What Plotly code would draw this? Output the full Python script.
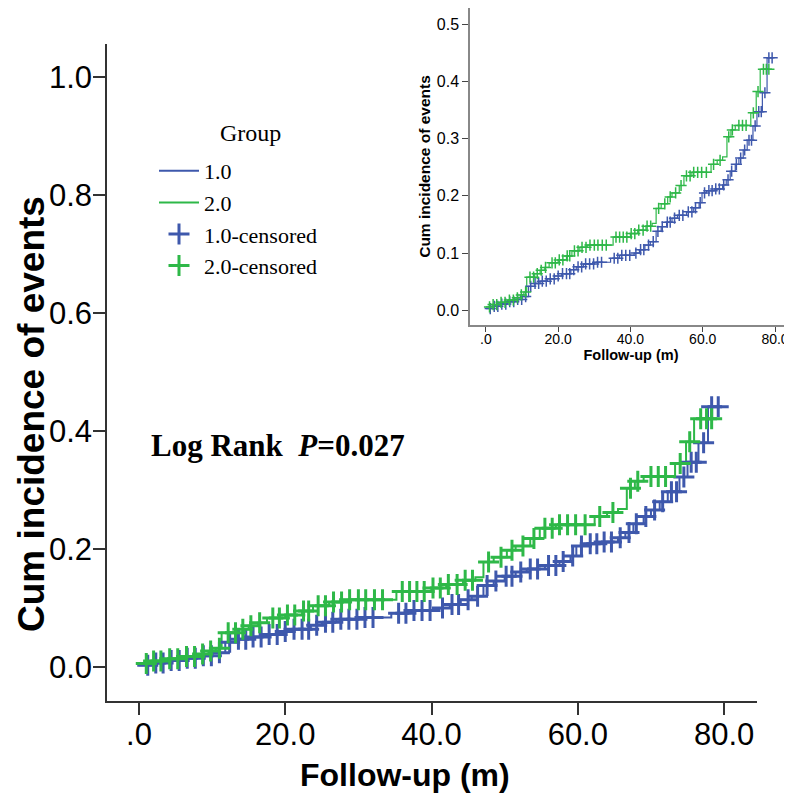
import numpy as np
import plotly.graph_objects as go

# ---------------- data ----------------
# Group 1.0 (blue): event times and cumulative incidence after each step
g1_times = [0, 2, 4, 6, 8, 10, 11.8, 13.5, 15, 17, 19, 21, 23.5, 25, 27, 30, 34.5, 37, 41,
            42.5, 44, 45.5, 47.1, 48.5, 50, 51.5, 53, 55.5, 57.5, 59, 59.8, 61, 63.5, 65.5,
            66.5, 67.6, 69, 70, 71.2, 72.3, 73.9, 75, 76.5, 77.8]
g1_cum = [0.003, 0.007, 0.011, 0.015, 0.019, 0.024, 0.042, 0.047, 0.051, 0.055, 0.060, 0.064,
          0.071, 0.076, 0.081, 0.084, 0.091, 0.096, 0.100, 0.106, 0.114, 0.120, 0.138, 0.146,
          0.154, 0.161, 0.166, 0.172, 0.179, 0.188, 0.205, 0.209, 0.212, 0.219, 0.228, 0.243,
          0.255, 0.266, 0.280, 0.297, 0.322, 0.347, 0.380, 0.441]
g1_end = 79.4
g1_censored = [1.2, 2.3, 3.3, 4.4, 5.5, 6.6, 7.7, 8.8, 9.9, 11, 12.4, 13.6, 14.6, 15.6, 16.7,
               17.8, 18.9, 20, 21.2, 22.3, 23.2, 24.3, 25.5, 26.5, 27.6, 28.7, 29.8, 30.9, 32,
               35.5, 36.5, 37.6, 38.7, 39.8, 41.5, 42.8, 43.7, 45, 46.3, 47.6, 48.8, 50.2, 51,
               52.2, 53.5, 54.5, 56, 57, 58, 59.3, 60.5, 61.7, 62.6, 63.6, 64.6, 65.8, 67, 68,
               69.3, 70.5, 71.6, 72.8, 73.5, 74.5, 75.5, 76.2, 77.2, 78.3, 79.2]

# Group 2.0 (green)
g2_times = [0, 2, 4, 6, 8, 9.5, 10.5, 11.3, 13.5, 15, 16.3, 17.5, 20, 22.3, 23.8, 26, 28, 35.2,
            40, 42, 44.3, 46, 47.1, 48.5, 50.3, 51.5, 53.5, 54.8, 57, 62.3, 64, 65.5, 66.7,
            67.8, 69, 73.3, 74.8, 75.9]
g2_cum = [0.006, 0.010, 0.014, 0.018, 0.022, 0.027, 0.032, 0.058, 0.064, 0.070, 0.075, 0.083,
          0.088, 0.095, 0.104, 0.110, 0.114, 0.128, 0.134, 0.140, 0.147, 0.152, 0.178, 0.186,
          0.198, 0.205, 0.218, 0.235, 0.241, 0.255, 0.262, 0.268, 0.303, 0.315, 0.323, 0.345,
          0.382, 0.421]
g2_end = 78.5
g2_censored = [1, 2, 3, 4.2, 5.3, 6.5, 7.6, 8.7, 9.8, 11, 12.2, 13.2, 14.2, 15.3, 16.5, 18.3,
               19.2, 20.3, 21.3, 22.5, 23.2, 24.5, 25.5, 26.6, 27.7, 28.8, 30, 31, 32.2, 33.3,
               36, 37, 38, 39, 40.2, 41.2, 42.3, 43.5, 44.6, 45.6, 47.8, 49.5, 51, 52.5, 54,
               55.5, 56.5, 57.5, 58.6, 59.7, 61, 63, 64.8, 67.2, 68.2, 70, 71, 72, 74, 75.3,
               76.8, 77.6, 78.3]

group_names = ["1.0", "2.0"]
x_tickvals = [0, 20, 40, 60, 80]
x_ticktext = [".0", "20.0", "40.0", "60.0", "80.0"]
y_main_ticks = [0.0, 0.2, 0.4, 0.6, 0.8, 1.0]
y_inset_ticks = [0.0, 0.1, 0.2, 0.3, 0.4, 0.5]
x_title = "Follow-up (m)"
y_title = "Cum incidence of events"
legend_title = "Group"
p_text = "Log Rank  <i>P</i>=0.027"

BLUE = "#3E58AC"
GREEN = "#2EB848"
SANS = "Liberation Sans, Arial, sans-serif"
SERIF = "Liberation Serif, Times New Roman, serif"


def step_value(times, cum, t):
    idx = np.searchsorted(np.array(times), np.array(t), side="right") - 1
    idx = np.clip(idx, 0, len(cum) - 1)
    return np.array(cum)[idx]


groups = [
    (group_names[0], g1_times, g1_cum, g1_end, g1_censored, BLUE),
    (group_names[1], g2_times, g2_cum, g2_end, g2_censored, GREEN),
]

fig = go.Figure()

# main plot lines
for name, t, c, end, cens, col in groups:
    fig.add_trace(go.Scatter(
        x=list(t) + [end], y=list(c) + [c[-1]], mode="lines", line_shape="hv",
        line=dict(color=col, width=2), name=name, xaxis="x", yaxis="y"))
for name, t, c, end, cens, col in groups:
    fig.add_trace(go.Scatter(
        x=cens, y=step_value(t, c, cens), mode="markers",
        marker=dict(symbol="cross-thin", size=15, line=dict(color=col, width=3)),
        name=name + "-censored", xaxis="x", yaxis="y"))

# inset
for name, t, c, end, cens, col in groups:
    fig.add_trace(go.Scatter(
        x=list(t) + [end], y=list(c) + [c[-1]], mode="lines", line_shape="hv",
        line=dict(color=col, width=1.2), showlegend=False, xaxis="x2", yaxis="y2"))
for name, t, c, end, cens, col in groups:
    fig.add_trace(go.Scatter(
        x=cens, y=step_value(t, c, cens), mode="markers",
        marker=dict(symbol="cross-thin", size=8, line=dict(color=col, width=1.5)),
        showlegend=False, xaxis="x2", yaxis="y2"))

# page body has an 8px margin: work in screen pixels and subtract it
OFF = 8
W, H = 792 - OFF, 806 - OFF


def px(xs):
    return (xs - OFF) / W


def py(ys):
    return (H - (ys - OFF)) / H


axis_col = "#333333"

fig.update_layout(
    width=W, height=H,
    margin=dict(l=0, r=0, t=0, b=0),
    paper_bgcolor="white", plot_bgcolor="rgba(0,0,0,0)",
    font=dict(family=SANS, color="black"),
    xaxis=dict(
        domain=[px(107), px(757)], range=[-4.37, 84.5],
        tickvals=x_tickvals, ticktext=x_ticktext,
        showgrid=False, zeroline=False, showline=True, linecolor=axis_col, linewidth=1.5,
        ticks="outside", ticklen=12, tickwidth=1.5, tickcolor=axis_col,
        tickfont=dict(size=31, family=SANS), automargin=False, ticklabelstandoff=-7,
        anchor="y",
    ),
    yaxis=dict(
        domain=[py(701), py(44)], range=[-0.0576, 1.056],
        tickvals=y_main_ticks, tickformat=".1f",
        showgrid=False, zeroline=False, showline=True, linecolor=axis_col, linewidth=1.5,
        ticks="outside", ticklen=12, tickwidth=1.5, tickcolor=axis_col,
        tickfont=dict(size=31, family=SANS), automargin=False, ticklabelstandoff=-5,
        anchor="x",
    ),
    xaxis2=dict(
        domain=[px(470), 1.0], range=[-4.4, 84.7],
        tickvals=x_tickvals, ticktext=x_ticktext,
        showgrid=False, zeroline=False, showline=True, linecolor="#888888", linewidth=1.5,
        ticks="outside", ticklen=5, tickwidth=1.2, tickcolor="#444444",
        tickfont=dict(size=14, family=SANS), automargin=False, ticklabelstandoff=-5,
        title=dict(text="<b>" + x_title + "</b>", font=dict(size=14.5, family=SANS), standoff=0),
        anchor="y2",
    ),
    yaxis2=dict(
        domain=[py(325), 1.0], range=[-0.0256, 0.528],
        tickvals=y_inset_ticks, tickformat=".1f",
        showgrid=False, zeroline=False, showline=True, linecolor="#888888", linewidth=1.5,
        ticks="outside", ticklen=6, tickwidth=1.2, tickcolor="#444444",
        tickfont=dict(size=16, family=SANS), automargin=False,
        title=dict(text="<b>" + y_title + "</b>", font=dict(size=15.5, family=SANS), standoff=2),
        anchor="x2",
    ),
    legend=dict(
        x=px(154), y=py(150), xanchor="left", yanchor="top",
        bgcolor="rgba(0,0,0,0)", borderwidth=0,
        font=dict(family=SERIF, size=22, color="black"),
        itemwidth=40, tracegroupgap=0,
    ),
    annotations=[
        dict(text=legend_title, xref="paper", yref="paper",
             x=px(250), y=py(133), xanchor="center", yanchor="middle", showarrow=False,
             font=dict(family=SERIF, size=24, color="black")),
        dict(text="<b>" + p_text + "</b>", xref="paper", yref="paper",
             x=px(149), y=py(445), xanchor="left", yanchor="middle", showarrow=False,
             font=dict(family=SERIF, size=31, color="black")),
        dict(text="<b>" + y_title + "</b>", xref="paper", yref="paper", textangle=-90,
             x=px(31), y=py(414), xanchor="center", yanchor="middle", showarrow=False,
             font=dict(family=SANS, size=37, color="black")),
        dict(text="<b>" + x_title + "</b>", xref="paper", yref="paper",
             x=px(405), y=py(775), xanchor="center", yanchor="middle", showarrow=False,
             font=dict(family=SANS, size=32, color="black")),
    ],
)

fig.write_html("out.html")
